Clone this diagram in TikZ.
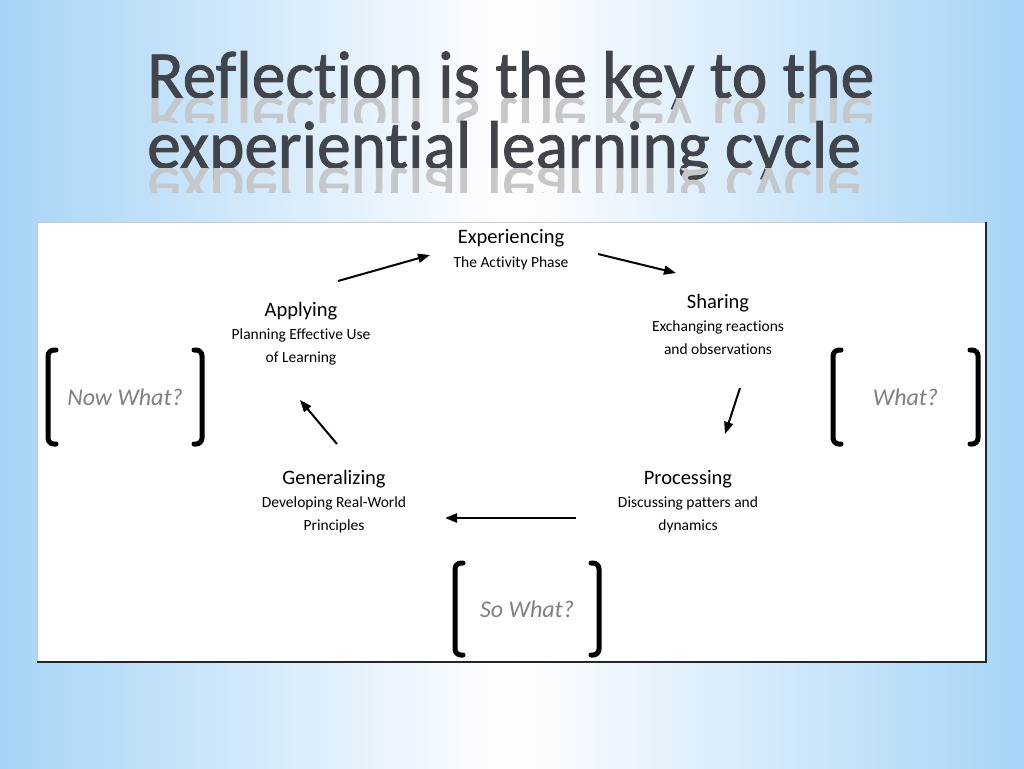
\documentclass[tikz,border=0pt]{standalone}
\usepackage{fontspec}
\usepackage{graphicx}
\setmainfont{Carlito}[Ligatures=NoCommon]
\newfontfamily\titlefont{Carlito}[FakeBold=1.2,Ligatures=NoCommon]
\usetikzlibrary{arrows.meta}

\definecolor{bgblue}{RGB}{166,212,246}
\definecolor{titlegray}{RGB}{66,68,76}
\definecolor{askgray}{RGB}{128,128,128}

\begin{document}
\begin{tikzpicture}[x=1pt,y=-1pt,
  title/.style={anchor=base west,inner sep=0,text=titlegray,font=\titlefont\fontsize{67.5}{70}\selectfont},
  stage/.style={anchor=base,align=center,inner sep=0,font=\fontsize{15.5}{22.5}\selectfont},
  ask/.style={text=askgray,font=\fontsize{24}{28}\selectfont\itshape},
  brk/.style={line width=5pt,line cap=round,rounded corners=6pt},
  cyc/.style={line width=2pt,-{Triangle[length=12pt,width=9pt]}}]
  \useasboundingbox (0,0) rectangle (1024,768);
  \shade[left color=bgblue,right color=bgblue,middle color=white] (0,0) rectangle (1024,768);

  \foreach \t/\yb in {Reflection is the key to the/98,experiential learning cycle/168} {
    \node[title] (title\yb) at (147,\yb) {\t};
    \begin{scope}
      \clip (0,\yb) rectangle (1024,\yb+24);
      \node[title,text=titlegray!30] at (147,\yb) {\scalebox{1}[-1]{\t}};
    \end{scope}
  }

  \fill[white] (37,222) rectangle (986,662);
  \draw[gray!40] (37,662) -- (37,222) -- (986,222);
  \draw[black!85,line width=1.2pt] (37,662) -- (986,662) -- (986,222);

  \node[stage] (exp) at (511,267) {{\fontsize{20.5}{24}\selectfont Experiencing}\\[1pt] The Activity Phase};
  \node[stage] (sha) at (718,354) {{\fontsize{20.5}{24}\selectfont Sharing}\\[1pt] Exchanging reactions\\ and observations};
  \node[stage] (pro) at (688,530) {{\fontsize{20.5}{24}\selectfont Processing}\\[1pt] Discussing patters and\\ dynamics};
  \node[stage] (gen) at (334,530) {{\fontsize{20.5}{24}\selectfont Generalizing}\\[1pt] Developing Real-World\\ Principles};
  \node[stage] (app) at (301,362) {{\fontsize{20.5}{24}\selectfont Applying}\\[1pt] Planning Effective Use\\ of Learning};

  \coordinate (app-out) at (338,281);
  \coordinate (exp-in) at (430,255);
  \coordinate (exp-out) at (598,254);
  \coordinate (sha-in) at (676,273);
  \coordinate (sha-out) at (740,388);
  \coordinate (pro-in) at (725,434);
  \coordinate (pro-out) at (576,518);
  \coordinate (gen-in) at (445,518);
  \coordinate (gen-out) at (337,444);
  \coordinate (app-in) at (300,400);
  \draw[cyc] (app-out) -- (exp-in);
  \draw[cyc] (exp-out) -- (sha-in);
  \draw[cyc] (sha-out) -- (pro-in);
  \draw[cyc,line width=2.5pt] (pro-out) -- (gen-in);
  \draw[cyc] (gen-out) -- (app-in);

  \foreach \n/\xl/\xr/\yt/\yb/\t in {now/48/202/350/444/Now What?,what/833/978/350/444/What?,so/455/599/563/655/So What?} {
    \node[ask] (\n) at ({(\xl+\xr)/2},{(\yt+\yb)/2}) {\t};
    \draw[brk] (\xl+8,\yt) -- (\xl,\yt) -- (\xl,\yb) -- (\xl+8,\yb);
    \draw[brk] (\xr-8,\yt) -- (\xr,\yt) -- (\xr,\yb) -- (\xr-8,\yb);
  }
\end{tikzpicture}
\end{document}
